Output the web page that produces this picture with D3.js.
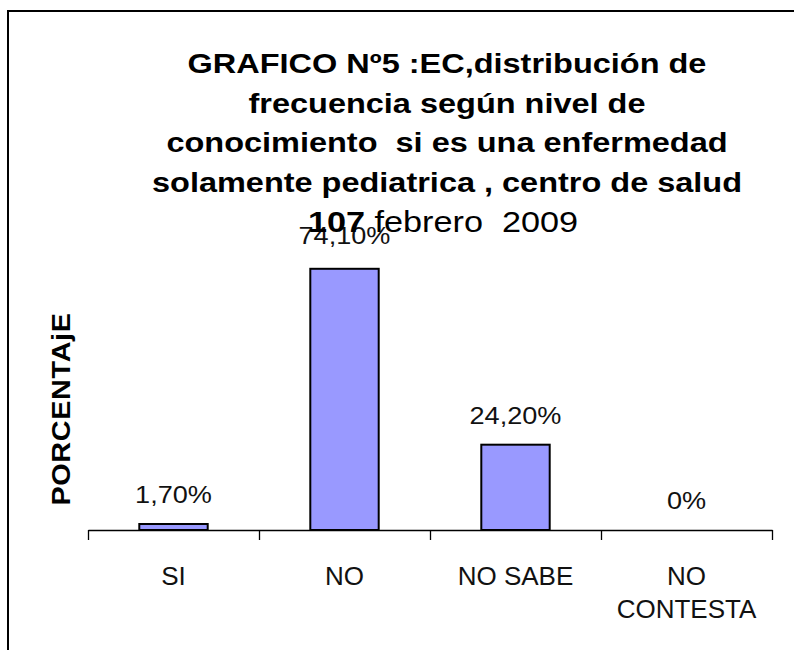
<!DOCTYPE html>
<html>
<head>
<meta charset="utf-8">
<script src="https://cdn.jsdelivr.net/npm/d3@7"></script>
<style>
  body { margin: 0; background: #fff; }
  text { font-family: "Liberation Sans", Arial, sans-serif; }
</style>
</head>
<body>
<div id="chart"></div>
<script>
// data
const categories = ["SI", "NO", "NO SABE", "NO CONTESTA"];
const values = [1.7, 74.1, 24.2, 0];
const valueLabels = ["1,70%", "74,10%", "24,20%", "0%"];
const titleLines = [
    "GRAFICO Nº5 :EC,distribución de",
    "frecuencia según nivel de",
    "conocimiento  si es una enfermedad",
    "solamente pediatrica , centro de salud"
];
const yLabel = "PORCENTAjE";

const width = 794;
const height = 650;

const svg = d3.select("#chart").append("svg")
    .attr("width", width)
    .attr("height", height);

svg.append("rect")
    .attr("width", width)
    .attr("height", height)
    .attr("fill", "#fff");

// outer frame (only left and top visible)
svg.append("path")
    .attr("d", `M8,${height + 5}V11H${width + 5}`)
    .attr("fill", "none")
    .attr("stroke", "#000")
    .attr("stroke-width", 2);

// scales
const x = d3.scaleBand()
    .domain(categories)
    .range([88, 772])
    .paddingInner(0.6)
    .paddingOuter(0.3);

const xTicks = d3.scaleLinear()
    .domain([0, categories.length])
    .range([88, 772]);

const y = d3.scaleLinear()
    .domain([0, 80])
    .range([530, 248]);

// x axis with boundary ticks
svg.append("g")
    .attr("transform", `translate(0,${y(0)})`)
    .call(d3.axisBottom(xTicks)
        .tickValues(d3.range(categories.length + 1))
        .tickSizeInner(10)
        .tickSizeOuter(0)
        .tickFormat(""))
    .call(g => g.selectAll("path, line").attr("stroke", "#000").attr("stroke-width", 1.3));

// bars
svg.append("g")
    .selectAll("rect")
    .data(values)
    .join("rect")
    .attr("x", (d, i) => x(categories[i]))
    .attr("width", x.bandwidth())
    .attr("y", d => y(d))
    .attr("height", d => y(0) - y(d))
    .attr("fill", "#9999ff")
    .attr("stroke", "#000")
    .attr("stroke-width", d => d > 0 ? 2 : 0);

// value labels (slightly wide glyphs as in the original)
svg.append("g")
    .selectAll("text")
    .data(values)
    .join("text")
    .attr("transform", (d, i) => {
        const cx = x(categories[i]) + x.bandwidth() / 2;
        const cy = y(d) - (i === 1 ? 25 : 21);
        return `translate(${cx},${cy}) scale(1.13,1)`;
    })
    .attr("text-anchor", "middle")
    .style("font-size", "24px")
    .attr("fill", "#111")
    .text((d, i) => valueLabels[i]);

// category labels
svg.append("g")
    .selectAll("text")
    .data(categories)
    .join("text")
    .attr("x", d => x(d) + x.bandwidth() / 2)
    .attr("y", 585)
    .attr("text-anchor", "middle")
    .style("font-size", "26px")
    .attr("fill", "#111")
    .each(function (d) {
        const parts = d === "NO CONTESTA" ? ["NO", "CONTESTA"] : [d];
        const t = d3.select(this);
        parts.forEach((p, k) => {
            t.append("tspan")
                .attr("x", x(d) + x.bandwidth() / 2)
                .attr("dy", k === 0 ? 0 : 33)
                .text(p);
        });
    });

// y axis title
svg.append("text")
    .attr("transform", "translate(70,409) rotate(-90) scale(1.15,1)")
    .attr("text-anchor", "middle")
    .style("font-size", "25px")
    .style("font-weight", "bold")
    .style("letter-spacing", "0.6px")
    .attr("fill", "#000")
    .text(yLabel);

// title
const title = svg.append("g")
    .attr("text-anchor", "middle")
    .style("font-size", "28px")
    .attr("fill", "#000");

title.selectAll("text.line")
    .data(titleLines)
    .join("text")
    .attr("class", "line")
    .attr("transform", (d, i) => `translate(447,${73 + i * 39.7}) scale(1.16,1)`)
    .attr("xml:space", "preserve")
    .style("white-space", "pre")
    .style("font-weight", "bold")
    .text(d => d);

const last = title.append("text")
    .attr("transform", `translate(443,${73 + 4 * 39.7}) scale(1.18,1)`)
    .attr("xml:space", "preserve")
    .style("white-space", "pre")
    .style("font-size", "29px");
last.append("tspan").style("font-weight", "bold").text("107");
last.append("tspan").text(" febrero  2009");
</script>
</body>
</html>
